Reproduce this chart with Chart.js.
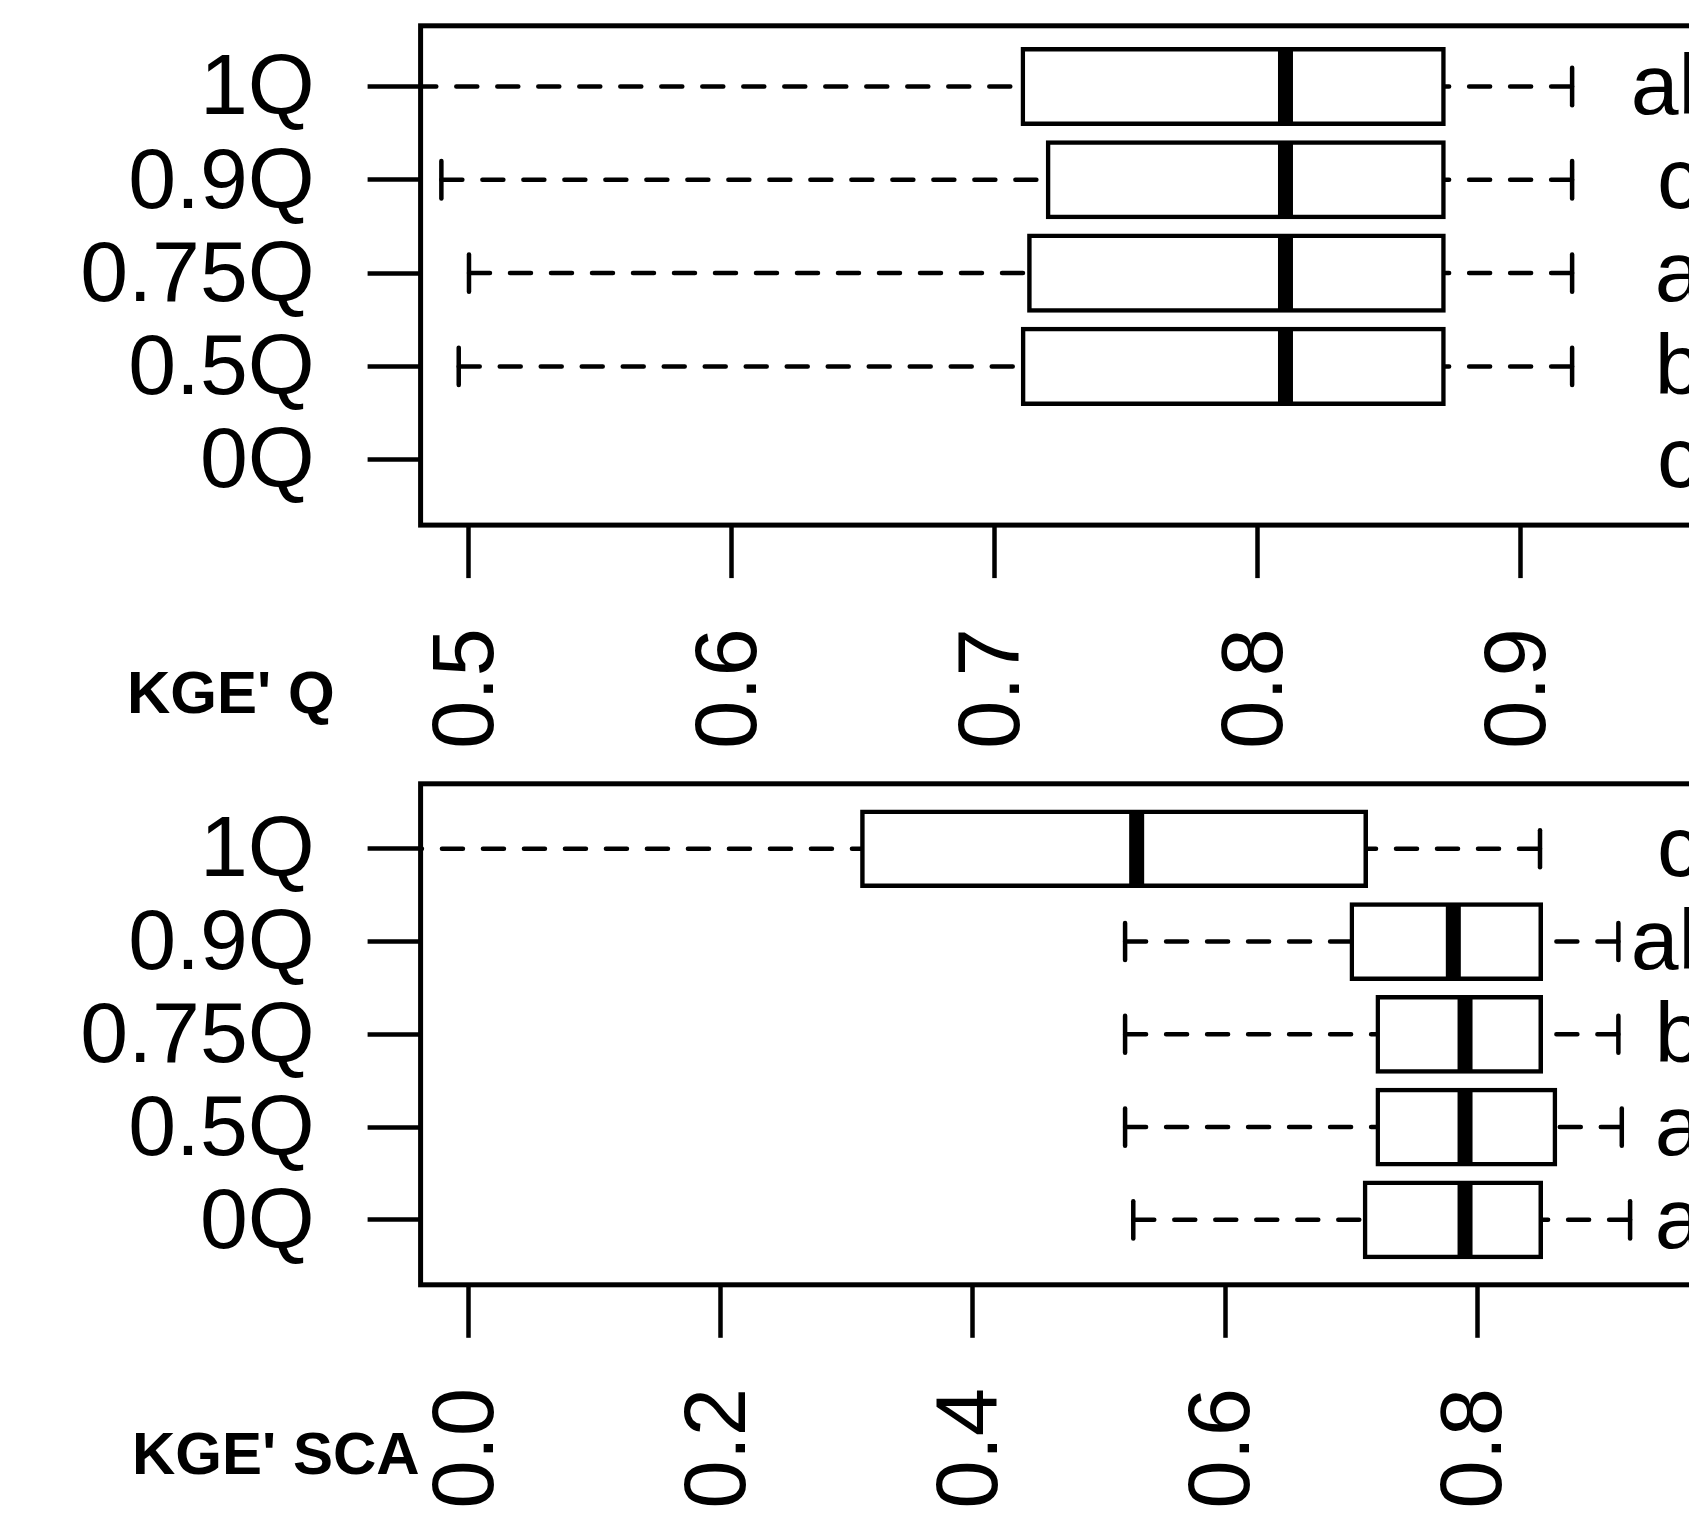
<!DOCTYPE html>
<html>
<head>
<meta charset="utf-8">
<script src="https://cdn.jsdelivr.net/npm/chart.js@4.4.1/dist/chart.umd.min.js"></script>
<style>
  html, body { margin: 0; padding: 0; background: #fff; overflow: hidden; width: 1689px; height: 1513px; }
  canvas { position: absolute; left: 0; }
</style>
</head>
<body>
<canvas id="kgeQ" width="1800" height="760" style="top:0px"></canvas>
<canvas id="kgeSCA" width="1800" height="753" style="top:760px"></canvas>
<script>
// groups, bottom to top (R puts the first group at the bottom)
const categorias = ['0Q', '0.5Q', '0.75Q', '0.9Q', '1Q'];
const posiciones = [1, 2, 3, 4, 5];

// KGE' Q  (0Q box lies completely left of the axis, so nothing is drawn)
const qLo  = [null, 0.4961, 0.5000, 0.4895, 0.4484];
const qQ1  = [null, 0.7107, 0.7131, 0.7202, 0.7106];
const qMed = [null, 0.8105, 0.8105, 0.8105, 0.8105];
const qQ3  = [null, 0.8706, 0.8706, 0.8706, 0.8706];
const qHi  = [null, 0.9195, 0.9195, 0.9195, 0.9195];
const qLetras = ['c', 'b', 'a', 'c', 'ab'];
const qTicks = [0.5, 0.6, 0.7, 0.8, 0.9];
const qTickLabels = ['0.5', '0.6', '0.7', '0.8', '0.9'];

// KGE' SCA
const scaLo  = [0.5272, 0.5207, 0.5207, 0.5207, -0.0540];
const scaQ1  = [0.7111, 0.7212, 0.7212, 0.7006, 0.3122];
const scaMed = [0.7905, 0.7905, 0.7905, 0.7812, 0.5299];
const scaQ3  = [0.8506, 0.8619, 0.8506, 0.8506, 0.7117];
const scaHi  = [0.9215, 0.9149, 0.9122, 0.9122, 0.8500];
const scaLetras = ['a', 'a', 'b', 'ab', 'c'];
const scaTicks = [0, 0.2, 0.4, 0.6, 0.8];
const scaTickLabels = ['0.0', '0.2', '0.4', '0.6', '0.8'];

const letraX = 0.96; // where the group letters sit

Chart.defaults.font.family = '"Liberation Sans", Arial, sans-serif';
Chart.defaults.color = '#000';

// whiskers, staples, medians, frame and text
function boxParts(cfg) {
    return {
        id: 'boxParts',
        beforeDatasetsDraw(chart) {
            const { ctx, chartArea: a, scales: { x, y } } = chart;
            const unit = y.getPixelForValue(1) - y.getPixelForValue(2);
            ctx.save();
            ctx.beginPath();
            ctx.rect(a.left, a.top, a.width, a.height);
            ctx.clip();
            ctx.strokeStyle = '#000';
            ctx.lineWidth = 4.5;
            ctx.lineCap = 'round';
            posiciones.forEach((p, i) => {
                if (cfg.q1[i] === null) return;
                const py = y.getPixelForValue(p);
                // dashed whisker, from its end towards the box
                ctx.setLineDash([21, 20]);
                [[cfg.lo[i], cfg.q1[i]], [cfg.hi[i], cfg.q3[i]]].forEach(([desde, hasta]) => {
                    ctx.beginPath();
                    ctx.moveTo(x.getPixelForValue(desde), py);
                    ctx.lineTo(x.getPixelForValue(hasta), py);
                    ctx.stroke();
                });
                // staples
                ctx.setLineDash([]);
                [cfg.lo[i], cfg.hi[i]].forEach(v => {
                    const px = x.getPixelForValue(v);
                    ctx.beginPath();
                    ctx.moveTo(px, py - unit * 0.2);
                    ctx.lineTo(px, py + unit * 0.2);
                    ctx.stroke();
                });
            });
            ctx.restore();
        },
        afterDatasetsDraw(chart) {
            const { ctx, chartArea: a, scales: { x, y } } = chart;
            const unit = y.getPixelForValue(1) - y.getPixelForValue(2);
            ctx.save();
            ctx.beginPath();
            ctx.rect(a.left, a.top, a.width, a.height);
            ctx.clip();
            ctx.strokeStyle = '#000';
            ctx.lineWidth = 15;
            ctx.lineCap = 'butt';
            posiciones.forEach((p, i) => {
                if (cfg.med[i] === null) return;
                const py = y.getPixelForValue(p);
                const px = x.getPixelForValue(cfg.med[i]);
                ctx.beginPath();
                ctx.moveTo(px, py - unit * 0.4);
                ctx.lineTo(px, py + unit * 0.4);
                ctx.stroke();
            });
            ctx.restore();

            // box around the plot
            ctx.save();
            ctx.strokeStyle = '#000';
            ctx.lineWidth = 5;
            ctx.strokeRect(a.left, a.top, a.width, a.height);

            // letters
            ctx.fillStyle = '#000';
            ctx.font = '86px "Liberation Sans", Arial, sans-serif';
            ctx.textAlign = 'center';
            ctx.textBaseline = 'middle';
            posiciones.forEach((p, i) => {
                ctx.fillText(cfg.letras[i], x.getPixelForValue(letraX), y.getPixelForValue(p) + 4);
            });

            // axis title in the margin
            ctx.font = 'bold 60px "Liberation Sans", Arial, sans-serif';
            ctx.textAlign = 'left';
            ctx.textBaseline = 'alphabetic';
            ctx.fillText(cfg.titulo, cfg.tituloPos[0], cfg.tituloPos[1]);
            ctx.restore();
        }
    };
}

function boxChart(canvasId, cfg) {
    const ctx = document.getElementById(canvasId).getContext('2d');
    const boxData = [];
    posiciones.forEach((p, i) => {
        if (cfg.q1[i] !== null) boxData.push({ x: [cfg.q1[i], cfg.q3[i]], y: p });
    });
    // R style 4% extension of the axis range
    const span = cfg.xlim[1] - cfg.xlim[0];

    return new Chart(ctx, {
        type: 'bar',
        data: {
            datasets: [{
                data: boxData,
                backgroundColor: '#fff',
                borderColor: '#000',
                borderWidth: 4.5,
                borderSkipped: false,
                inflateAmount: 2.25,
                categoryPercentage: 1,
                barPercentage: 0.8,
                clip: 0
            }]
        },
        options: {
            indexAxis: 'y',
            responsive: false,
            animation: false,
            events: [],
            layout: { padding: { top: cfg.top, right: 73, left: 0, bottom: 0 } },
            plugins: {
                legend: { display: false },
                tooltip: { enabled: false }
            },
            scales: {
                x: {
                    type: 'linear',
                    min: cfg.xlim[0] - 0.04 * span,
                    max: cfg.xlim[1] + 0.04 * span,
                    offset: false,
                    afterBuildTicks: ax => { ax.ticks = cfg.ticks.map(v => ({ value: v })); },
                    afterFit: ax => {
                        ax.height = cfg.axisHeight;
                        ax.paddingLeft = 0;
                        ax.paddingRight = 0;
                    },
                    border: { display: false },
                    grid: { drawOnChartArea: false, offset: false, tickLength: 53, tickWidth: 4.5, tickColor: '#000' },
                    ticks: {
                        autoSkip: false,
                        minRotation: 90,
                        maxRotation: 90,
                        padding: 50,
                        font: { size: 87 },
                        callback: (v, i) => cfg.tickLabels[i]
                    }
                },
                y: {
                    type: 'linear',
                    min: cfg.ylim[0],
                    max: cfg.ylim[1],
                    offset: false,
                    afterBuildTicks: ax => { ax.ticks = posiciones.map(v => ({ value: v })); },
                    afterFit: ax => {
                        // labels do not reach the canvas edges, drop the auto padding
                        ax.width = 420.6;
                        ax.paddingTop = 0;
                        ax.paddingBottom = 0;
                    },
                    border: { display: false },
                    grid: { drawOnChartArea: false, offset: false, tickLength: 53, tickWidth: 4.5, tickColor: '#000' },
                    ticks: {
                        autoSkip: false,
                        padding: 53,
                        labelOffset: 4,
                        font: { size: 86 },
                        callback: v => categorias[posiciones.indexOf(v)]
                    }
                }
            }
        },
        plugins: [boxParts(cfg)]
    });
}

const chartQ = boxChart('kgeQ', {
    lo: qLo, q1: qQ1, med: qMed, q3: qQ3, hi: qHi,
    letras: qLetras,
    ticks: qTicks, tickLabels: qTickLabels,
    xlim: [0.5, 0.96],
    ylim: [0.3, 5.65],
    top: 25.8,
    axisHeight: 760 - 525.1,
    titulo: "KGE' Q",
    tituloPos: [127, 713]
});

const chartSCA = boxChart('kgeSCA', {
    lo: scaLo, q1: scaQ1, med: scaMed, q3: scaQ3, hi: scaHi,
    letras: scaLetras,
    ticks: scaTicks, tickLabels: scaTickLabels,
    xlim: [0, 0.96],
    ylim: [0.3, 5.7],
    top: 23.8,
    axisHeight: 753 - 524.8,
    titulo: "KGE' SCA",
    tituloPos: [132, 713.6]
});
</script>
</body>
</html>
